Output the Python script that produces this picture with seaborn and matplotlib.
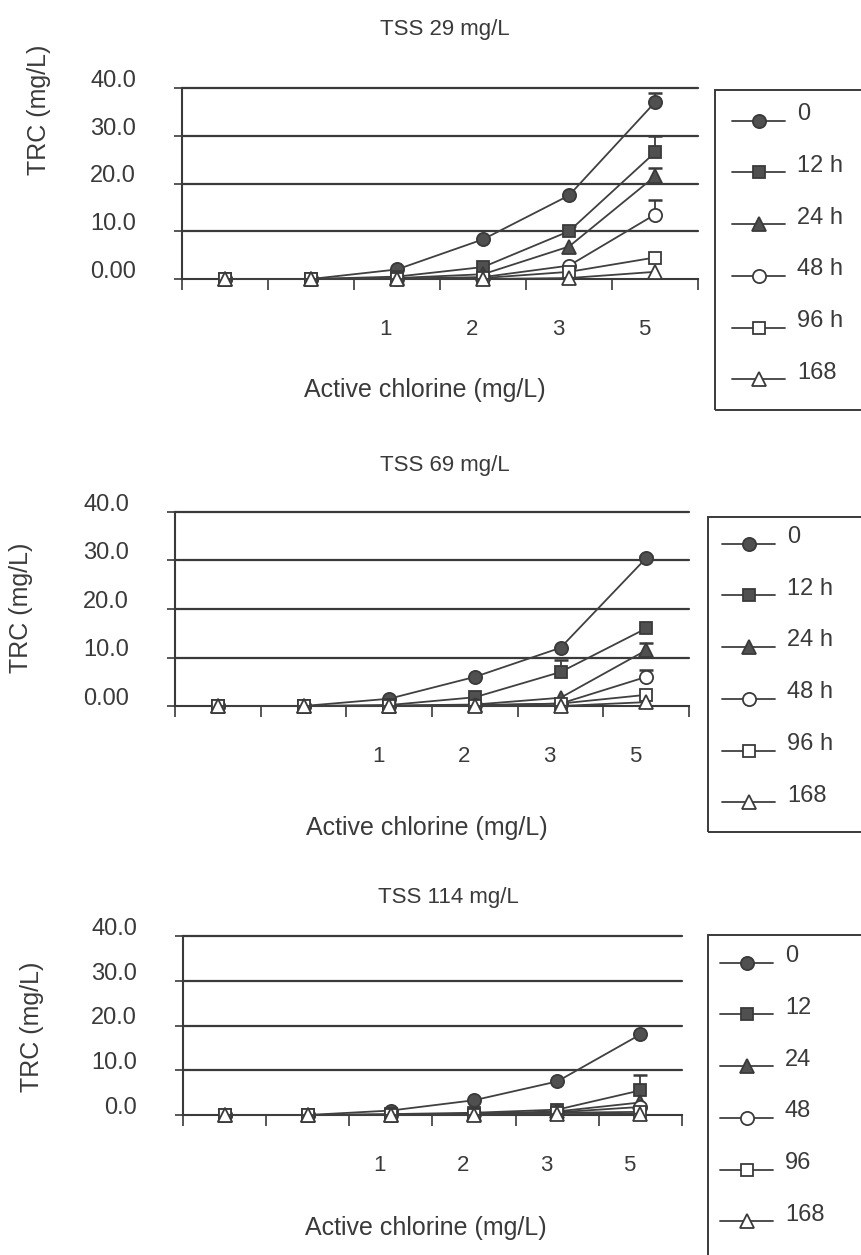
import numpy as np
import pandas as pd
import matplotlib
matplotlib.use("Agg")
import matplotlib.pyplot as plt
import matplotlib.transforms as mtrans
from matplotlib.patches import Rectangle
from matplotlib.lines import Line2D
from matplotlib.legend_handler import HandlerLine2D
import seaborn as sns

# ---------------- data ----------------
chlorine_labels = ["", "", "1", "2", "3", "5"]
series_names_h = ["0", "12 h", "24 h", "48 h", "96 h", "168"]
series_names_n = ["0", "12", "24", "48", "96", "168"]
panel_titles = ["TSS 29 mg/L", "TSS 69 mg/L", "TSS 114 mg/L"]
ytick_values = [0, 10, 20, 30, 40]
ytick_labels_a = ["0.00", "10.0", "20.0", "30.0", "40.0"]
ytick_labels_b = ["0.0", "10.0", "20.0", "30.0", "40.0"]
xlabel_text = "Active chlorine (mg/L)"
ylabel_text = "TRC (mg/L)"

# TSS 29 mg/L
tss29_0 = [0, 0, 2.0, 8.3, 17.5, 37.0]
tss29_12 = [0, 0, 0.5, 2.5, 10.0, 26.5]
tss29_24 = [0, 0, 0.2, 1.0, 6.8, 21.5]
tss29_48 = [0, 0, 0.1, 0.4, 2.8, 13.5]
tss29_96 = [0, 0, 0.0, 0.2, 1.5, 4.5]
tss29_168 = [0, 0, 0.0, 0.0, 0.2, 1.5]
tss29_err_0 = [0, 0, 0, 0, 0, 2.0]
tss29_err_12 = [0, 0, 0, 0, 1.0, 3.5]
tss29_err_24 = [0, 0, 0, 0, 0, 1.7]
tss29_err_48 = [0, 0, 0, 0, 0, 3.0]

# TSS 69 mg/L
tss69_0 = [0, 0, 1.5, 6.0, 12.0, 30.5]
tss69_12 = [0, 0, 0.2, 1.8, 7.0, 16.0]
tss69_24 = [0, 0, 0.1, 0.3, 1.7, 11.5]
tss69_48 = [0, 0, 0.0, 0.2, 0.5, 6.0]
tss69_96 = [0, 0, 0.0, 0.1, 0.5, 2.3]
tss69_168 = [0, 0, 0.0, 0.0, 0.0, 0.8]
tss69_err_0 = [0, 0, 0, 0, 0, 0.5]
tss69_err_12 = [0, 0, 0, 0, 2.5, 0]
tss69_err_24 = [0, 0, 0, 0, 0, 1.4]
tss69_err_48 = [0, 0, 0, 0, 0, 1.5]

# TSS 114 mg/L
tss114_0 = [0, 0, 1.0, 3.3, 7.5, 18.0]
tss114_12 = [0, 0, 0.2, 0.5, 1.2, 5.5]
tss114_24 = [0, 0, 0.1, 0.3, 0.8, 2.8]
tss114_48 = [0, 0, 0.0, 0.2, 0.6, 1.8]
tss114_96 = [0, 0, 0.0, 0.1, 0.5, 0.7]
tss114_168 = [0, 0, 0.0, 0.0, 0.2, 0.3]
tss114_err_12 = [0, 0, 0, 0, 0, 3.5]

zeros6 = [0, 0, 0, 0, 0, 0]

# ---------------- style ----------------
sns.set_style("white")
plt.rcParams["font.family"] = ["Liberation Sans", "DejaVu Sans"]
INK = "#3a3a3a"
LINE = "#404040"
FILL = "#505050"

W, H = 862, 1255
fig = plt.figure(figsize=(W / 100, H / 100), dpi=100)
fig.patch.set_facecolor("white")


def fx(px):
    return px / W


def fy(py):
    return 1 - py / H


marker_styles = [
    dict(marker="o", markersize=9.5, markerfacecolor=FILL),
    dict(marker="s", markersize=8.5, markerfacecolor=FILL),
    dict(marker="^", markersize=9.5, markerfacecolor=FILL),
    dict(marker="o", markersize=9.5, markerfacecolor="white"),
    dict(marker="s", markersize=9, markerfacecolor="white"),
    dict(marker="^", markersize=9.5, markerfacecolor="white"),
]


class LowHandler(HandlerLine2D):
    def create_artists(self, legend, orig_handle, xdescent, ydescent,
                       width, height, fontsize, trans):
        arts = super().create_artists(legend, orig_handle, xdescent, ydescent,
                                      width, height, fontsize, trans)
        for a in arts:
            a.set_ydata(np.asarray(a.get_ydata(), dtype=float) - 0.38 * fontsize)
        return arts


panels = [
    dict(series=[tss29_0, tss29_12, tss29_24, tss29_48, tss29_96, tss29_168],
         errs=[tss29_err_0, tss29_err_12, tss29_err_24, tss29_err_48, zeros6, zeros6],
         names=series_names_h, ytl=ytick_labels_a, title=panel_titles[0],
         rect=(182, 88, 698, 279), title_xy=(445, 30), xlab_xy=(425, 390),
         ylab_xy=(39, 110), box=(715, 90, 410), leg_xy=(732, 103)),
    dict(series=[tss69_0, tss69_12, tss69_24, tss69_48, tss69_96, tss69_168],
         errs=[tss69_err_0, tss69_err_12, tss69_err_24, tss69_err_48, zeros6, zeros6],
         names=series_names_h, ytl=ytick_labels_a, title=panel_titles[1],
         rect=(175, 512, 689, 706), title_xy=(445, 465), xlab_xy=(427, 828),
         ylab_xy=(21, 608), box=(708, 517, 832), leg_xy=(722, 526)),
    dict(series=[tss114_0, tss114_12, tss114_24, tss114_48, tss114_96, tss114_168],
         errs=[zeros6, tss114_err_12, zeros6, zeros6, zeros6, zeros6],
         names=series_names_n, ytl=ytick_labels_b, title=panel_titles[2],
         rect=(183, 936, 682, 1115), title_xy=(448, 897), xlab_xy=(426, 1228),
         ylab_xy=(32, 1027), box=(708, 935, 1265), leg_xy=(720, 945)),
]

positions = np.arange(len(chlorine_labels))

for p in panels:
    l, t, r, b = p["rect"]
    ax = fig.add_axes([fx(l), fy(b), (r - l) / W, (b - t) / H])
    handles = []
    for vals, errv, name, ms in zip(p["series"], p["errs"], p["names"], marker_styles):
        df = pd.DataFrame({"pos": positions, "TRC": vals})
        sns.lineplot(data=df, x="pos", y="TRC", ax=ax, color=LINE, linewidth=1.3,
                     markeredgecolor=INK, markeredgewidth=1.3, errorbar=None,
                     clip_on=False, zorder=3, legend=False, **ms)
        line = ax.lines[-1]
        handles.append(line)
        errv = np.asarray(errv, dtype=float)
        mask = errv > 0
        if mask.any():
            v = np.asarray(vals, dtype=float)[mask]
            eb = ax.errorbar(positions[mask], v, yerr=[np.zeros(mask.sum()), errv[mask]],
                             fmt="none", ecolor=INK, elinewidth=1.3, capsize=5,
                             capthick=1.8, zorder=2.5)
            caps = eb[1]
            if len(caps) >= 1:
                caps[0].set_visible(False)

    ax.set_xlim(-0.5, len(chlorine_labels) - 0.5)
    ax.set_ylim(0, 40)
    for yv in ytick_values[1:]:
        ax.axhline(yv, color=INK, lw=1.6, zorder=1, clip_on=False)
    # ticks
    ax.set_xticks(np.arange(-0.5, len(chlorine_labels), 1.0))
    ax.set_xticklabels([])
    ax.set_xticks(positions, minor=True)
    ax.set_xticklabels(chlorine_labels, minor=True)
    ax.tick_params(axis="x", which="major", direction="out", length=8, width=1.2,
                   color=INK, bottom=True)
    ax.tick_params(axis="x", which="minor", length=0, pad=29, labelsize=16,
                   labelcolor=INK, bottom=True)
    ax.set_yticks(ytick_values)
    ax.set_yticklabels(p["ytl"])
    ax.tick_params(axis="y", direction="out", length=6, width=1.2, color=INK,
                   pad=27, labelsize=17, labelcolor=INK, left=True)
    off_y = mtrans.ScaledTranslation(0, 7 / 72, fig.dpi_scale_trans)
    for lab in ax.get_yticklabels():
        lab.set_transform(lab.get_transform() + off_y)
    off_x = mtrans.ScaledTranslation(-8 / 72, 0, fig.dpi_scale_trans)
    for lab in ax.get_xticklabels(minor=True):
        lab.set_transform(lab.get_transform() + off_x)
    for s in ["top", "right"]:
        ax.spines[s].set_visible(False)
    for s in ["left", "bottom"]:
        ax.spines[s].set_color(INK)
        ax.spines[s].set_linewidth(1.5)
    ax.set_xlabel("")
    ax.set_ylabel("")
    ax.patch.set_alpha(0)

    # texts
    fig.text(fx(p["title_xy"][0]), fy(p["title_xy"][1]), p["title"], ha="center",
             va="center", fontsize=16, color=INK)
    fig.text(fx(p["xlab_xy"][0]), fy(p["xlab_xy"][1]), xlabel_text, ha="center",
             va="center", fontsize=18, color=INK)
    fig.text(fx(p["ylab_xy"][0]), fy(p["ylab_xy"][1]), ylabel_text, ha="center",
             va="center", fontsize=18, color=INK, rotation=90)

    # legend box and legend
    bx, btop, bbot = p["box"]
    fig.add_artist(Rectangle((fx(bx), fy(bbot)), 0.5, (bbot - btop) / H,
                             transform=fig.transFigure, fill=False, ec=INK, lw=1.4))
    leg = ax.legend(handles, p["names"], loc="upper left",
                    bbox_to_anchor=(fx(p["leg_xy"][0]), fy(p["leg_xy"][1])),
                    bbox_transform=fig.transFigure, frameon=False, fontsize=17,
                    handlelength=2.25, handletextpad=0.5, labelspacing=1.26,
                    borderpad=0, borderaxespad=0,
                    handler_map={Line2D: LowHandler()})
    for txt in leg.get_texts():
        txt.set_color(INK)

fig.savefig("out.png", dpi=100, facecolor="white")
